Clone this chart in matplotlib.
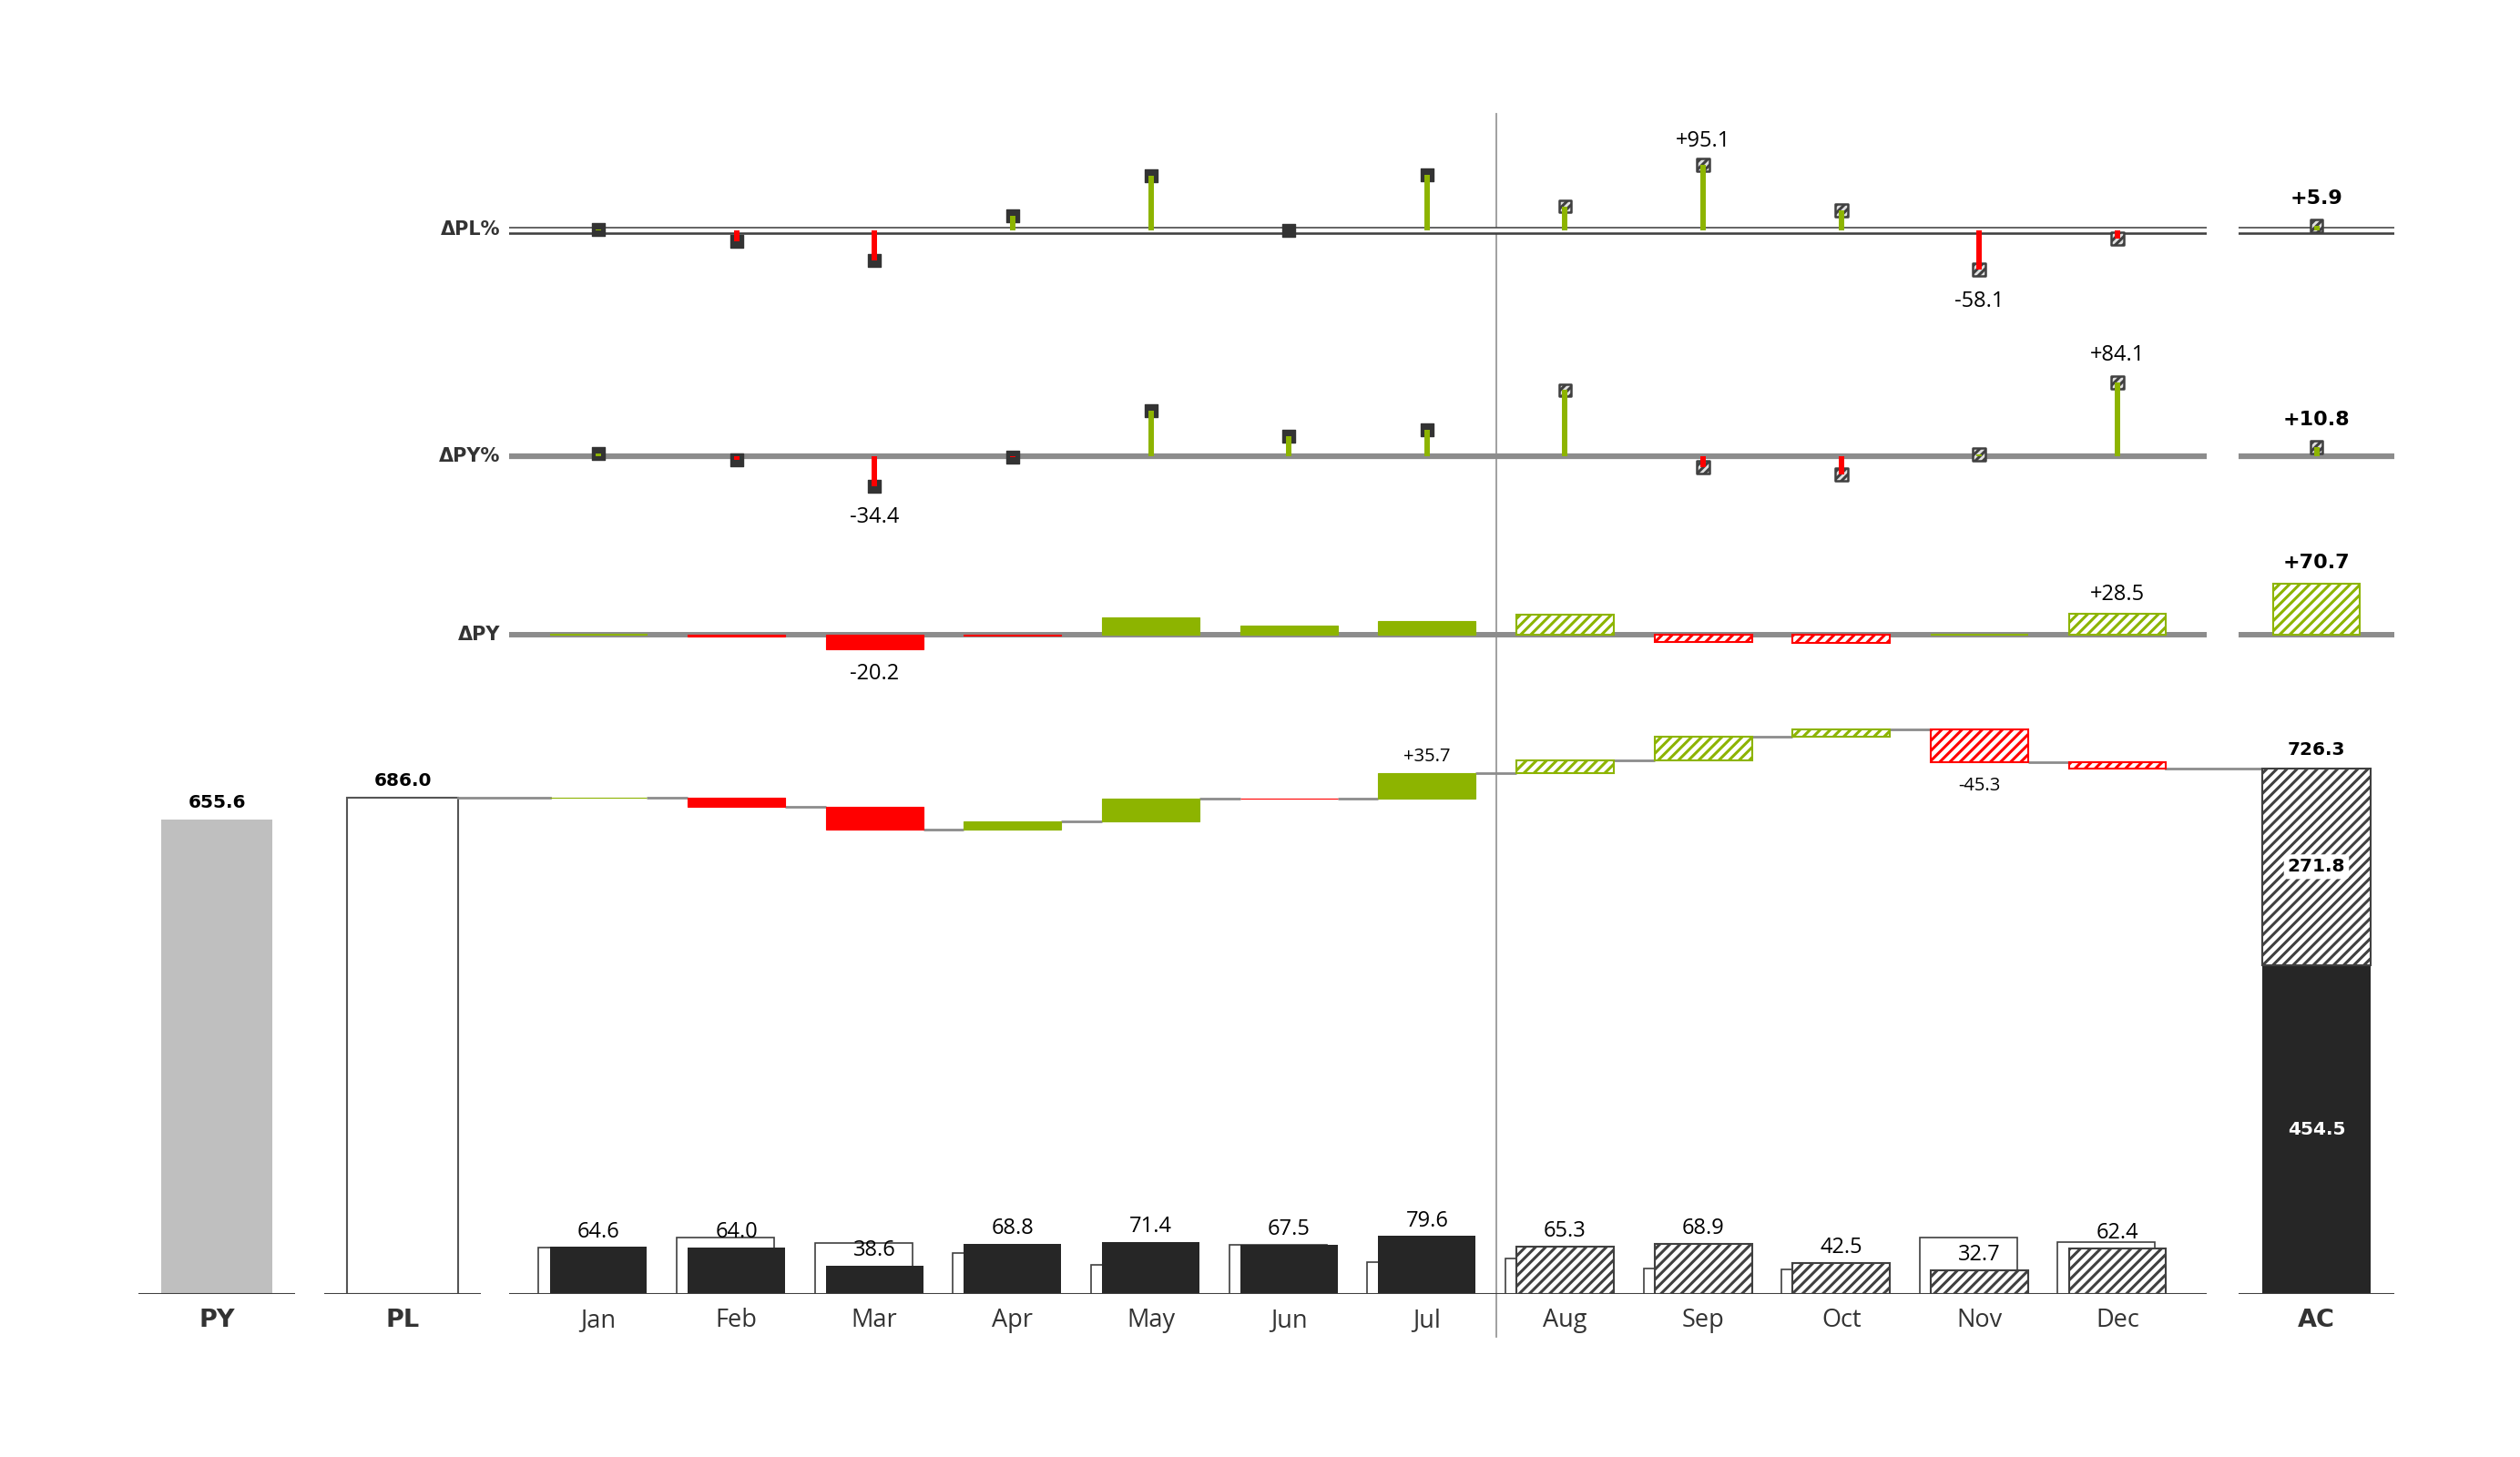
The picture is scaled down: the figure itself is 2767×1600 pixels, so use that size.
import matplotlib.pyplot as plt
import matplotlib.transforms as mtransforms
import numpy as np

# data
months = ['Jan', 'Feb', 'Mar', 'Apr', 'May', 'Jun',
          'Jul', 'Aug', 'Sep', 'Oct', 'Nov', 'Dec']
ac = [64.6, 64.0, 38.6, 68.8, 71.4, 67.5, 79.6, 65.3, 68.9, 42.5, 32.7, 62.4]
pl = [64.2, 77.3, 70.1, 56.8, 39.9, 68.0, 43.9, 48.5, 35.32, 33.0, 78.0, 71.0]
py = [62.8, 66.7, 58.8, 69.5, 46.9, 54.7, 61.0, 37.2, 78.5, 53.5, 32.1, 33.9]
n_act = 7  # Jan..Jul actual, Aug..Dec forecast

GREEN = '#8DB400'
RED = '#FF0000'
DARK = '#262626'
LINE = '#404040'
GRAY = '#8C8C8C'
PYGRAY = '#BFBFBF'
FONT = 'Open Sans'

plt.rcParams['hatch.linewidth'] = 2.2

W, H = 2767, 1600
fig = plt.figure(figsize=(W / 100, H / 100), dpi=100)


def make_ax(xr, top, bottom, base, scale, xlim):
    """
    Axes placed in pixels, with a fixed number of pixels per unit on y.
    """
    x0, x1 = xr
    ax = fig.add_axes([x0 / W, 1 - bottom / H, (x1 - x0) / W, (bottom - top) / H])
    ax.set_ylim((base - bottom) / scale, (base - top) / scale)
    ax.set_xlim(*xlim)
    ax.axis('off')
    return ax


def label(ax, x, y, text, dy, size=16, bold=False, color='black'):
    ax.annotate(text, (x, y), xytext=(0, dy), textcoords='offset points',
                ha='center', va='center', fontsize=size, color=color,
                family='DejaVu Sans' if bold else FONT,
                fontweight='bold' if bold else 'normal', zorder=10)


def row_label(ax, text):
    ax.text(-0.005, 0, text, transform=mtransforms.blended_transform_factory(
        ax.transAxes, ax.transData), ha='right', va='center',
        fontsize=15, fontweight='bold', color='#333333')


ac = np.array(ac)
pl = np.array(pl)
py = np.array(py)
x = np.arange(len(months))
fc = x >= n_act
bw = 0.705
HATCH = '///'

# layout (pixels)
BASE, SC = 1420.6, 0.794
M_X, AC_X, PY_X, PL_X = (559, 2423), (2458, 2629), (152, 324), (356, 528)
MLIM, TLIM = (-0.646, 11.646), (-0.7, 0.7)

ax_py = make_ax(PY_X, 700, BASE, BASE, SC, TLIM)
ax_pl = make_ax(PL_X, 700, BASE, BASE, SC, TLIM)
ax_m = make_ax(M_X, 700, BASE, BASE, SC, MLIM)
ax_ac = make_ax(AC_X, 700, BASE, BASE, SC, TLIM)

ax_dpy = make_ax(M_X, 590, 780, 697, SC, MLIM)
ax_dpy_t = make_ax(AC_X, 590, 780, 697, SC, TLIM)
ax_dpyp = make_ax(M_X, 380, 590, 501, 0.96, MLIM)
ax_dpyp_t = make_ax(AC_X, 380, 590, 501, 0.96, TLIM)
ax_dplp = make_ax(M_X, 110, 380, 252.5, 0.75, MLIM)
ax_dplp_t = make_ax(AC_X, 110, 380, 252.5, 0.75, TLIM)

# ---- totals PY / PL / AC
py_tot, pl_tot, ac_tot = py.sum(), pl.sum(), ac.sum()
ac_act, ac_fc = ac[:n_act].sum(), ac[n_act:].sum()

ax_py.bar(0, py_tot, 1.0, color=PYGRAY, zorder=2)
label(ax_py, 0, py_tot, f'{py_tot:.1f}', 13.5, 14.5, True)
ax_pl.bar(0, pl_tot, 1.0, color='white', edgecolor='#555555', lw=1.5, zorder=2)
label(ax_pl, 0, pl_tot, f'{pl_tot:.1f}', 13.5, 14.5, True)
ax_ac.bar(0, ac_act, 0.98, color=DARK, zorder=2)
ax_ac.bar(0, ac_fc, 0.98, bottom=ac_act, color='white', edgecolor=LINE,
          hatch=HATCH, lw=1.5, zorder=2)
label(ax_ac, 0, ac_tot, f'{ac_tot:.1f}', 14.5, 14.5, True)
label(ax_ac, 0, ac_act / 2, f'{ac_act:.1f}', 0, 14.5, True, 'white')
ax_ac.annotate(f'{ac_fc:.1f}', (0, ac_act + ac_fc / 2), ha='center', va='center',
               fontsize=14.5, fontweight='bold', zorder=10,
               bbox=dict(boxstyle='round,pad=0.2', fc='white', ec='none'))

for ax, name in [(ax_py, 'PY'), (ax_pl, 'PL'), (ax_ac, 'AC')]:
    ax.axhline(0, color=LINE, lw=1.5, zorder=3)
    label(ax, 0, 0, name, -21, 19.5, True, '#333333')

# ---- monthly bars
ax_m.axhline(0, color=LINE, lw=1.5, zorder=4)
ax_m.bar(x - 0.08, pl, bw, color='white', edgecolor=LINE, lw=1.2, zorder=2)
for i in x:
    if fc[i]:
        ax_m.bar(i, ac[i], bw, color='white', edgecolor=LINE, hatch=HATCH,
                 lw=1.5, zorder=3)
    else:
        ax_m.bar(i, ac[i], bw, color=DARK, zorder=3)
    label(ax_m, i, ac[i], f'{ac[i]:.1f}', 12, 17)
    label(ax_m, i, 0, months[i], -21, 19.5, color='#333333')

# ---- waterfall PL -> AC
d_pl = ac - pl
cum = pl_tot + np.concatenate([[0], np.cumsum(d_pl)])
for i in x:
    lo, hi = sorted([cum[i], cum[i + 1]])
    col = GREEN if d_pl[i] >= 0 else RED
    if fc[i]:
        ax_m.bar(i, hi - lo, bw, bottom=lo, color='white', edgecolor=col,
                 hatch=HATCH, lw=1.5, zorder=3)
    else:
        ax_m.bar(i, hi - lo, bw, bottom=lo, color=col, edgecolor=col,
                 lw=0.8, zorder=3)
ax_m.hlines(cum[1:-1], x[:-1] + bw / 2, x[1:] - bw / 2, color=GRAY, lw=2, zorder=2)
p0 = ax_pl.transData.transform((0.5, pl_tot))
x_start = ax_m.transData.inverted().transform(p0)[0]
ax_m.plot([x_start, -bw / 2], [pl_tot, pl_tot], color=GRAY, lw=2, clip_on=False)
p1 = ax_ac.transData.transform((-0.49, ac_tot))
x_end = ax_m.transData.inverted().transform(p1)[0]
ax_m.plot([x[-1] + bw / 2, x_end], [ac_tot, ac_tot], color=GRAY, lw=2, clip_on=False)
imax, imin = np.argmax(d_pl), np.argmin(d_pl)
label(ax_m, imax, max(cum[imax], cum[imax + 1]), f'{d_pl[imax]:+.1f}', 13, 14.5)
label(ax_m, imin, min(cum[imin], cum[imin + 1]), f'{d_pl[imin]:+.1f}', -19, 14.5)

# ---- delta PY (absolute)
d_py = ac - py
for ax in (ax_dpy, ax_dpy_t):
    ax.axhline(0, color=GRAY, lw=4.3, zorder=1)
for i in x:
    col = GREEN if d_py[i] >= 0 else RED
    if fc[i]:
        ax_dpy.bar(i, d_py[i], bw, color='white', edgecolor=col, hatch=HATCH,
                   lw=1.5, zorder=2)
    else:
        ax_dpy.bar(i, d_py[i], bw, color=col, edgecolor=col, lw=0.8, zorder=2)
imax, imin = np.argmax(d_py), np.argmin(d_py)
label(ax_dpy, imax, d_py[imax], f'{d_py[imax]:+.1f}', 15.5, 17)
label(ax_dpy, imin, d_py[imin], f'{d_py[imin]:+.1f}', -19.5, 17)
d_py_tot = ac_tot - py_tot
ax_dpy_t.bar(0, d_py_tot, 0.77, color='white', edgecolor=GREEN, hatch=HATCH,
             lw=1.5, zorder=2)
label(ax_dpy_t, 0, d_py_tot, f'{d_py_tot:+.1f}', 16.5, 16, True)
row_label(ax_dpy, 'ΔPY')


# ---- pin charts (percent)
def pins(ax, vals, fcast, size=100):
    xs = np.arange(len(vals))
    cols = [GREEN if v >= 0 else RED for v in vals]
    for xi, v, f in zip(xs, vals, fcast):
        if f:
            ax.scatter(xi, v, s=size, marker='s', facecolor='#E0E0E0',
                       edgecolor=LINE, hatch='////', lw=1.8, zorder=2)
        else:
            ax.scatter(xi, v, s=size, marker='s', color='#333333', zorder=2)
    ax.vlines(xs, 0, vals, colors=cols, lw=4.3, zorder=3)


pct_py = d_py / py * 100
pct_py_tot = d_py_tot / py_tot * 100
for ax in (ax_dpyp, ax_dpyp_t):
    ax.axhline(0, color=GRAY, lw=4.5, zorder=1)
pins(ax_dpyp, pct_py, fc)
pins(ax_dpyp_t, [pct_py_tot], [True])
imax, imin = np.argmax(pct_py), np.argmin(pct_py)
label(ax_dpyp, imax, pct_py[imax], f'{pct_py[imax]:+.1f}', 22, 17)
label(ax_dpyp, imin, pct_py[imin], f'{pct_py[imin]:+.1f}', -24.5, 17)
label(ax_dpyp_t, 0, pct_py_tot, f'{pct_py_tot:+.1f}', 21, 16, True)
row_label(ax_dpyp, 'ΔPY%')

pct_pl = d_pl / pl * 100
pct_pl_tot = (ac_tot - pl_tot) / pl_tot * 100
for ax in (ax_dplp, ax_dplp_t):
    ax.axhline(0, color=LINE, lw=6.2, zorder=1)
    ax.axhline(0, color='white', lw=3.2, zorder=1)
pins(ax_dplp, pct_pl, fc)
pins(ax_dplp_t, [pct_pl_tot], [True])
imax, imin = np.argmax(pct_pl), np.argmin(pct_pl)
label(ax_dplp, imax, pct_pl[imax], f'{pct_pl[imax]:+.1f}', 19, 17)
label(ax_dplp, imin, pct_pl[imin], f'{pct_pl[imin]:+.1f}', -25, 17)
label(ax_dplp_t, 0, pct_pl_tot, f'{pct_pl_tot:+.1f}', 21.5, 16, True)
row_label(ax_dplp, 'ΔPL%')

# ---- separator between actual and forecast
sep = mtransforms.blended_transform_factory(ax_m.transData, fig.transFigure)
ax_m.plot([n_act - 0.5, n_act - 0.5], [1 - 125 / H, 1 - 1468 / H], color='#999999',
          lw=1.3, transform=sep, clip_on=False, zorder=1)

fig.savefig('out.png', dpi=100, facecolor='white')
